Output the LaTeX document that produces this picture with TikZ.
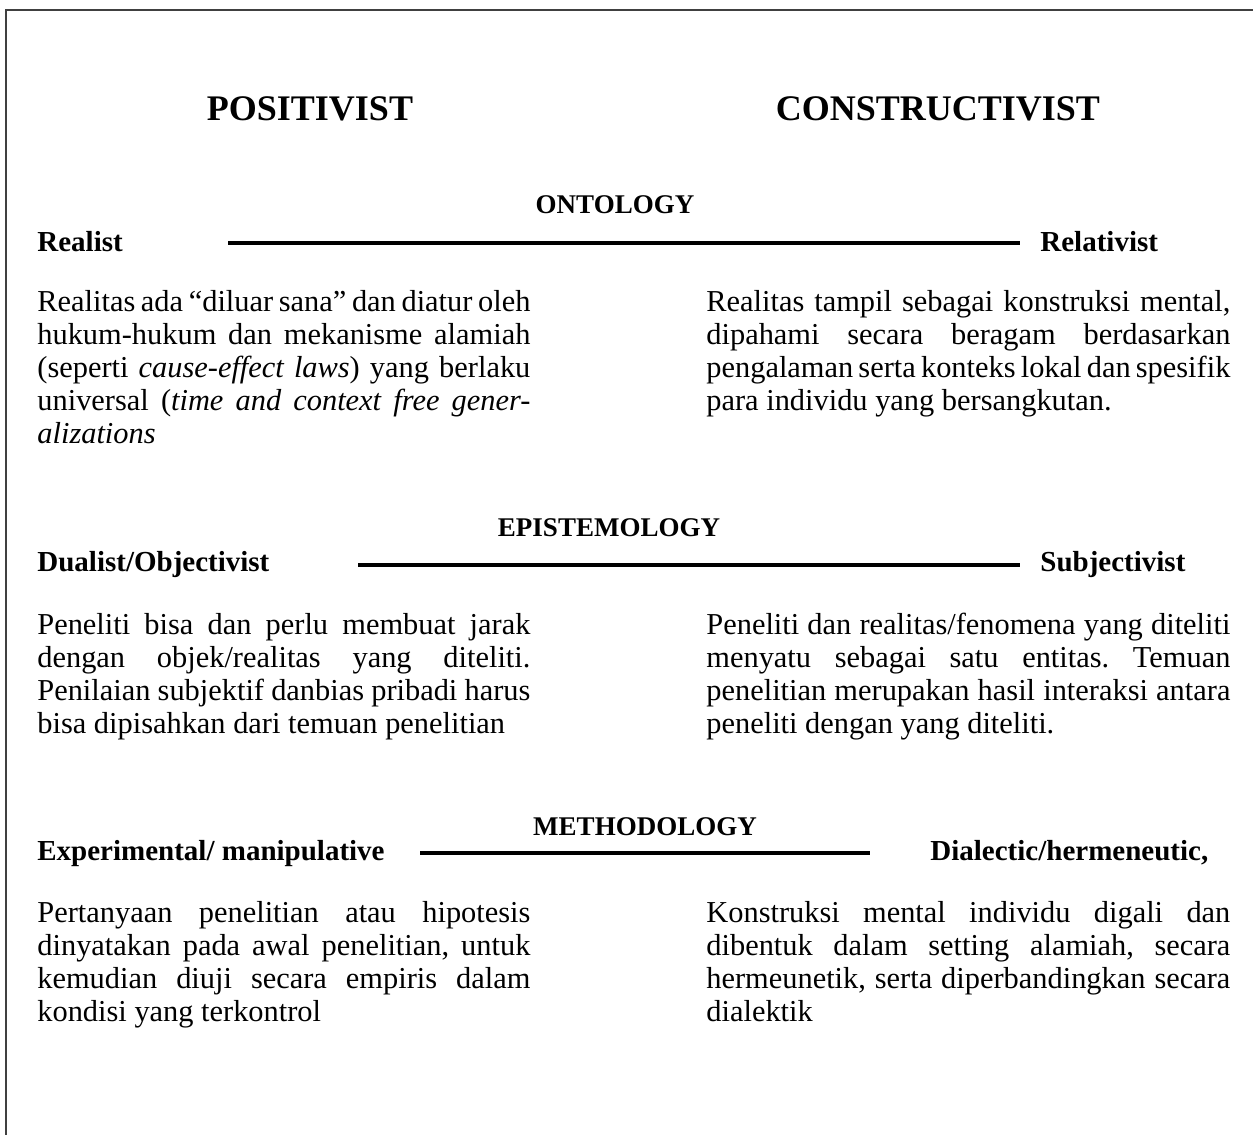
\documentclass[tikz,border=0pt]{standalone}
\usepackage{fontspec}
\setmainfont{Liberation Serif}
\frenchspacing
\newcommand{\jl}[2]{\makebox[#1][s]{#2}}
\begin{document}
\begin{tikzpicture}[x=0.5pt,y=-0.5pt,
  frame/.style={line width=1.1pt, draw=black!75},
  head/.style={font=\fontsize{18}{20}\selectfont\bfseries, inner sep=0, anchor=base},
  sect/.style={font=\fontsize{13.5}{15}\selectfont\bfseries, inner sep=0, anchor=base},
  lab/.style={font=\fontsize{14.5}{16}\selectfont\bfseries, inner sep=0, anchor=base west},
  body/.style={font=\fontsize{15.2}{16.5}\selectfont, inner sep=0, anchor=base west},
  axis/.style={line width=2pt}]
\useasboundingbox (0,0) rectangle (1253,1135);
\draw[frame] (1253,10) -- (6,10) -- (6,1135);

% column heads
\node[head] (pos) at (310,120) {POSITIVIST};
\node[head] (con) at (938,120) {CONSTRUCTIVIST};

% ONTOLOGY
\node[sect] (ont) at (615,213) {ONTOLOGY};
\node[lab] (real) at (37,251) {Realist};
\node[lab] (rel) at (1040,251) {Relativist};
\coordinate (o1) at (228,243);
\coordinate (o2) at (1020,243);
\draw[axis] (o1) -- (o2);
\foreach \t [count=\i] in {{Realitas ada “diluar sana” dan diatur oleh},
  {hukum-hukum dan mekanisme alamiah},
  {(seperti \textit{cause-effect laws}) yang berlaku},
  {universal (\textit{time and context free gener-}}}
  \node[body] (ol\i) at (37,{311+33*(\i-1)}) {\jl{246.5pt}{\t}};
\node[body] (ol5) at (37,443) {\textit{alizations}};
\foreach \t [count=\i] in {{Realitas tampil sebagai konstruksi mental,},
  {dipahami secara beragam berdasarkan},
  {pengalaman serta konteks lokal dan spesifik}}
  \node[body] (or\i) at (706,{311+33*(\i-1)}) {\jl{262pt}{\t}};
\node[body] (or4) at (706,410) {para individu yang bersangkutan.};

% EPISTEMOLOGY
\node[sect] (epi) at (609,536) {EPISTEMOLOGY};
\node[lab] (dual) at (37,571) {Dualist/Objectivist};
\node[lab] (subj) at (1040,571) {Subjectivist};
\coordinate (e1) at (358,565);
\coordinate (e2) at (1020,565);
\draw[axis] (e1) -- (e2);
\foreach \t [count=\i] in {{Peneliti bisa dan perlu membuat jarak},
  {dengan objek/realitas yang diteliti.},
  {Penilaian subjektif danbias pribadi harus}}
  \node[body] (el\i) at (37,{634+33*(\i-1)}) {\jl{246.5pt}{\t}};
\node[body] (el4) at (37,733) {bisa dipisahkan dari temuan penelitian};
\foreach \t [count=\i] in {{Peneliti dan realitas/fenomena yang diteliti},
  {menyatu sebagai satu entitas. Temuan},
  {penelitian merupakan hasil interaksi antara}}
  \node[body] (er\i) at (706,{634+33*(\i-1)}) {\jl{262pt}{\t}};
\node[body] (er4) at (706,733) {peneliti dengan yang diteliti.};

% METHODOLOGY
\node[sect] (met) at (645,835) {METHODOLOGY};
\node[lab] (exp) at (37,860) {Experimental/ manipulative};
\node[lab] (dia) at (930,860) {Dialectic/hermeneutic,};
\coordinate (m1) at (420,853);
\coordinate (m2) at (870,853);
\draw[axis] (m1) -- (m2);
\foreach \t [count=\i] in {{Pertanyaan penelitian atau hipotesis},
  {dinyatakan pada awal penelitian, untuk},
  {kemudian diuji secara empiris dalam}}
  \node[body] (ml\i) at (37,{922+33*(\i-1)}) {\jl{246.5pt}{\t}};
\node[body] (ml4) at (37,1021) {kondisi yang terkontrol};
\foreach \t [count=\i] in {{Konstruksi mental individu digali dan},
  {dibentuk dalam setting alamiah, secara},
  {hermeunetik, serta diperbandingkan secara}}
  \node[body] (mr\i) at (706,{922+33*(\i-1)}) {\jl{262pt}{\t}};
\node[body] (mr4) at (706,1021) {dialektik};
\end{tikzpicture}
\end{document}
